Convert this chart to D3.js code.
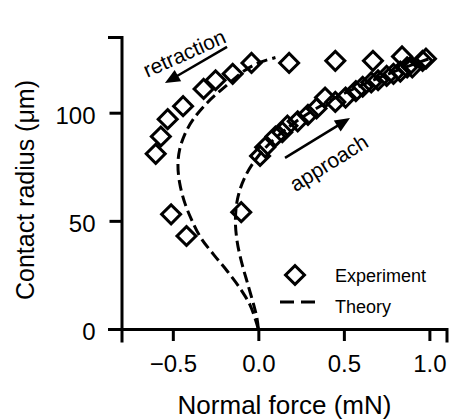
<!DOCTYPE html>
<html><head><meta charset="utf-8">
<script src="https://cdn.jsdelivr.net/npm/d3@7"></script>
<style>body{margin:0;background:#fff} text{font-family:"Liberation Sans",Arial,Helvetica,sans-serif;fill:#000}</style>
</head><body><svg id="c" width="449" height="419"></svg>
<script>
// Experiment: approach branch (force mN, contact radius µm)
const approachForce  = [-0.10, 0.01, 0.04, 0.10, 0.14, 0.17, 0.23, 0.29, 0.34, 0.39, 0.45, 0.51, 0.57, 0.61, 0.66, 0.70, 0.75, 0.79, 0.83, 0.87, 0.90, 0.96, 0.98];
const approachRadius = [54, 80, 84, 89, 91, 94, 96, 99, 102, 107, 105, 107, 110, 112, 114, 115, 117, 118, 119, 121, 121, 124, 125];
// Experiment: retraction branch
const retractForce  = [0.84, 0.67, 0.45, 0.18, -0.04, -0.15, -0.25, -0.32, -0.44, -0.53, -0.57, -0.60, -0.51, -0.42];
const retractRadius = [126, 124, 124, 123, 123, 118, 115, 111, 103, 97, 89, 81, 53, 43];
// Theory curves
const theoryApproachRadius = [0, 5, 10, 20, 30, 40, 50, 60, 70, 80, 90, 100, 110, 120, 125];
const theoryApproachForce  = [0, -0.008, -0.023, -0.059, -0.095, -0.123, -0.134, -0.122, -0.080, 0, 0.124, 0.298, 0.530, 0.826, 1.0];
const theoryRetractRadius = [0, 10.5, 18, 26.6, 34.3, 42, 50.5, 58.3, 67.5, 76, 83, 90, 97, 104.5, 110, 115, 119.5, 123, 125.5];
const theoryRetractForce  = [0, -0.045, -0.10, -0.18, -0.26, -0.335, -0.39, -0.43, -0.46, -0.47, -0.46, -0.43, -0.38, -0.30, -0.225, -0.15, -0.08, 0, 0.10];
// Axes
const xTicks = [-0.5, 0.0, 0.5, 1.0];
const yTicks = [0, 50, 100];
const xDomain = [-0.8, 1.1];
const yDomain = [0, 135];
const xLabel = "Normal force (mN)";
const yLabel = "Contact radius (μm)";
const legendLabels = ["Experiment", "Theory"];
// Annotations (data coords)
const arrows = [
  {from: [0.156, 79.1], to: [0.536, 97.5], label: "approach", at: [0.435, 74.0], angle: -32},
  {from: [-0.183, 130.4], to: [-0.546, 113.7], label: "retraction", at: [-0.415, 124.4], angle: -24}
];

const svg = d3.select("#c");
const x = d3.scaleLinear().domain(xDomain).range([121.5, 446.5]);
const y = d3.scaleLinear().domain(yDomain).range([329, 37]);

// theory curves
const line = d3.line().x(d => x(d[0])).y(d => y(d[1])).curve(d3.curveCatmullRom);
[[theoryApproachForce, theoryApproachRadius], [theoryRetractForce, theoryRetractRadius]].forEach(([f, r]) => {
  svg.append("path").datum(f.map((v, i) => [v, r[i]]))
    .attr("d", line).attr("fill", "none").attr("stroke", "#000")
    .attr("stroke-width", 3).attr("stroke-dasharray", "11,5");
});

// experiment markers
const diamond = d3.symbol(d3.symbolSquare, 180);
const pts = approachForce.map((v, i) => [v, approachRadius[i]])
  .concat(retractForce.map((v, i) => [v, retractRadius[i]]));
svg.append("g").selectAll("path").data(pts).join("path")
  .attr("d", diamond)
  .attr("transform", d => `translate(${x(d[0])},${y(d[1])}) rotate(45)`)
  .attr("fill", "none").attr("stroke", "#000").attr("stroke-width", 3);

// axes
const fmt = d3.format(".1f");
const xa = svg.append("g").attr("transform", "translate(0,329)")
  .call(d3.axisBottom(x).tickValues(xTicks).tickFormat(fmt).tickSizeOuter(0).tickSize(12).tickPadding(14));
const ya = svg.append("g").attr("transform", "translate(121.5,0)")
  .call(d3.axisLeft(y).tickValues(yTicks).tickFormat(d3.format("d")).tickSizeOuter(0).tickSize(12).tickPadding(14));
[xa, ya].forEach(a => {
  a.selectAll("path.domain").attr("stroke-width", 3).attr("stroke-linecap", "square");
  a.selectAll(".tick line").attr("stroke-width", 3);
  a.selectAll("text").style("font-size", "24px").attr("font-family", null);
});
xa.selectAll(".tick text").attr("dy", "0.71em");
ya.selectAll(".tick text").attr("dy", "0.45em");

svg.append("text").attr("x", 284.5).attr("y", 414).attr("text-anchor", "middle")
  .style("font-size", "26px").text(xLabel);
svg.append("text").attr("transform", "translate(34,190) rotate(-90)").attr("text-anchor", "middle")
  .style("font-size", "25px").text(yLabel);

// arrows + labels
arrows.forEach(a => {
  const x0 = x(a.from[0]), y0 = y(a.from[1]), x1 = x(a.to[0]), y1 = y(a.to[1]);
  const dx = x1 - x0, dy = y1 - y0, L = Math.hypot(dx, dy), ux = dx / L, uy = dy / L;
  const hl = 15, hw = 6.5;
  const bx = x1 - ux * hl, by = y1 - uy * hl;
  svg.append("line").attr("x1", x0).attr("y1", y0).attr("x2", bx + ux * 2).attr("y2", by + uy * 2)
    .attr("stroke", "#000").attr("stroke-width", 2.5);
  svg.append("path").attr("d", `M${x1},${y1}L${bx - uy * hw},${by + ux * hw}L${bx + uy * hw},${by - ux * hw}Z`)
    .attr("fill", "#000");
  svg.append("text").attr("transform", `translate(${x(a.at[0])},${y(a.at[1])}) rotate(${a.angle})`)
    .attr("text-anchor", "middle").style("font-size", "21px").text(a.label);
});

// legend
const lg = svg.append("g");
lg.append("path").attr("d", diamond).attr("transform", "translate(295,275) rotate(45)")
  .attr("fill", "none").attr("stroke", "#000").attr("stroke-width", 3);
lg.append("line").attr("x1", 280).attr("x2", 315).attr("y1", 302).attr("y2", 302)
  .attr("stroke", "#000").attr("stroke-width", 3).attr("stroke-dasharray", "14,7");
lg.append("text").attr("x", 335).attr("y", 282).style("font-size", "18px").text(legendLabels[0]);
lg.append("text").attr("x", 335).attr("y", 313).style("font-size", "18px").text(legendLabels[1]);
</script></body></html>
